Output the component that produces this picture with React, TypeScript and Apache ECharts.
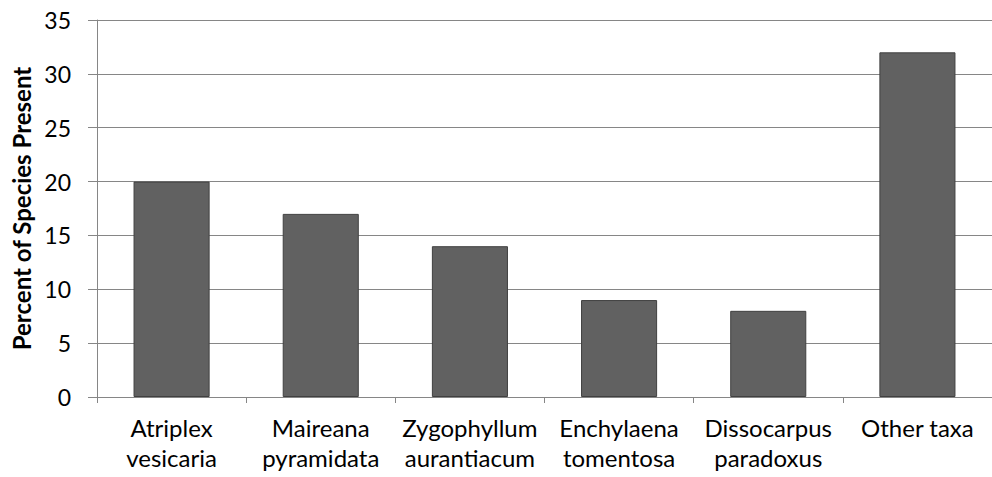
import React, { useEffect, useRef } from "react";
import * as echarts from "echarts";

const categories = [
  "Atriplex\nvesicaria",
  "Maireana\npyramidata",
  "Zygophyllum\naurantiacum",
  "Enchylaena\ntomentosa",
  "Dissocarpus\nparadoxus",
  "Other taxa",
];
const percentPresent = [20, 17, 14, 9, 8, 32];
const yTitle = "Percent of Species Present";

const FONT = "Lato, 'Open Sans', sans-serif";

export default function App() {
  const ref = useRef<HTMLDivElement>(null);

  useEffect(() => {
    if (!ref.current) return;
    const chart = echarts.init(ref.current, null, { renderer: "svg" });
    chart.setOption({
      animation: false,
      backgroundColor: "#ffffff",
      grid: { left: 97, right: -8, top: 20, bottom: 80, containLabel: false },
      xAxis: {
        type: "category",
        data: categories,
        axisLine: { lineStyle: { color: "#868686", width: 1 } },
        axisTick: { show: true, length: 6, lineStyle: { color: "#868686" } },
        axisLabel: {
          color: "#000000",
          fontFamily: FONT,
          fontSize: 24,
          lineHeight: 30,
          margin: 15,
          interval: 0,
        },
      },
      yAxis: {
        type: "value",
        min: 0,
        max: 35,
        interval: 5,
        name: yTitle,
        nameLocation: "middle",
        nameGap: 64,
        nameTextStyle: {
          color: "#000000",
          fontFamily: FONT,
          fontSize: 24,
          fontWeight: "bold",
        },
        axisLine: { show: true, lineStyle: { color: "#868686", width: 1 } },
        axisTick: { show: true, length: 9, lineStyle: { color: "#868686" } },
        axisLabel: {
          color: "#000000",
          fontFamily: FONT,
          fontSize: 23,
          margin: 26,
        },
        splitLine: { show: true, lineStyle: { color: "#868686", width: 1 } },
      },
      series: [
        {
          type: "bar",
          data: percentPresent,
          barWidth: "51%",
          itemStyle: {
            color: "#616161",
            borderColor: "#404040",
            borderWidth: 1,
          },
        },
      ],
    });
    return () => chart.dispose();
  }, []);

  return (
    <div
      ref={ref}
      style={{ position: "fixed", left: 0, top: 0, width: 992, height: 477 }}
    />
  );
}
